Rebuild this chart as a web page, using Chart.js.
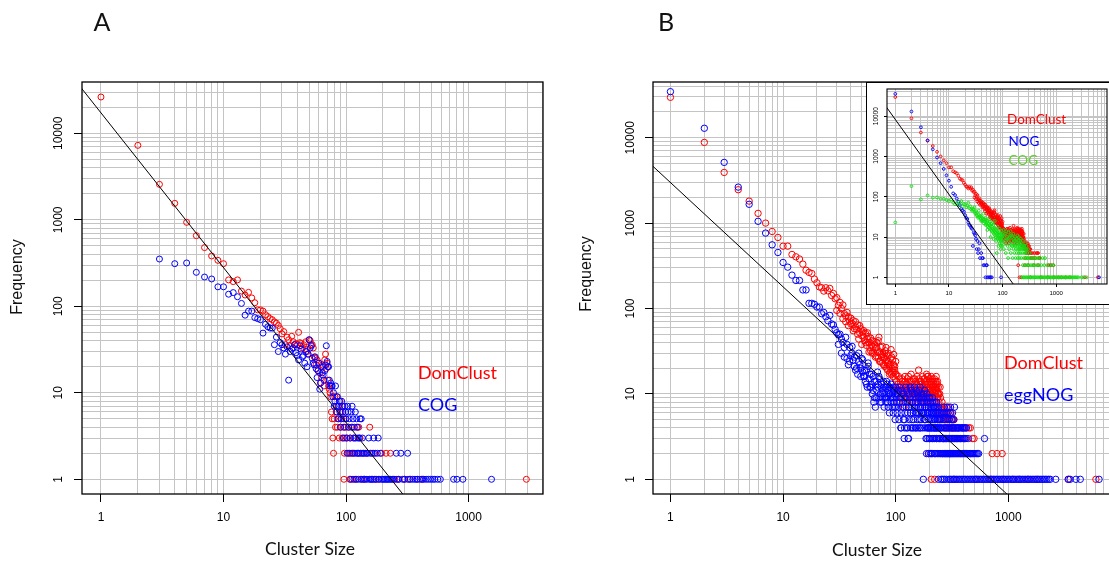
<!DOCTYPE html>
<html>
<head>
<meta charset="utf-8">
<script src="https://cdn.jsdelivr.net/npm/chart.js@4"></script>
<style>
  body { margin: 0; width: 1109px; height: 561px; overflow: hidden; background: #fff; position: relative; }
  canvas { position: absolute; }
  #inset { position: absolute; left: 866px; top: 82px; width: 262px; height: 221px; border: 1.5px solid #000; background: #fff; }
  #inset canvas { left: 0; top: 0; }
</style>
</head>
<body>
<canvas id="chartA" width="560" height="561" style="left:0;top:0"></canvas>
<canvas id="chartB" width="570" height="561" style="left:560px;top:0"></canvas>
<div id="inset"><canvas id="chartC" width="250" height="221"></canvas></div>
<script>
// tick labels and grid
const xTickLabels = [1, 10, 100, 1000]
const yTickLabels = [1, 10, 100, 1000, 10000]
const gridMult = [1, 2, 3, 4, 5, 6, 7, 8, 9]
const decades = [1, 10, 100, 1000, 10000]

// ---- panel A ----
// DomClust frequency for cluster sizes 1..75
const domA_freq = [26300, 7260, 2570, 1550, 935, 656, 477, 382, 340, 311,
  202, 193, 202, 150, 135, 145, 125, 110, 91, 91,
  88, 80, 76, 72, 70, 66, 64, 60, 55, 48,
  51, 36, 44, 41, 35, 45, 39, 36, 37, 36,
  50, 38, 37, 33, 36, 32, 39, 30, 28, 41,
  40, 36, 36, 33, 26, 25, 21, 24, 18, 22,
  17, 13, 15, 21, 20, 12, 24, 28, 19, 22,
  14, 12, 11, 10, 9]
const domA_tail = [[76, 6], [77, 5], [78, 3], [79, 2], [80, 5], [81, 9], [82, 4], [83, 6], [84, 9], [85, 4],
  [86, 7], [87, 5], [88, 3], [89, 8], [90, 4], [91, 6], [92, 5], [93, 3], [94, 7], [95, 4], [96, 1], [97, 2],
  [98, 3], [99, 5], [100, 4], [102, 3], [104, 2], [105, 4], [107, 1], [108, 3], [110, 2], [112, 1], [113, 4],
  [115, 2], [117, 3], [120, 1], [122, 4], [125, 2], [127, 4], [130, 3], [134, 1], [138, 2], [142, 1], [148, 2],
  [156, 4], [160, 1], [168, 2], [175, 1], [185, 1], [195, 2], [212, 2], [230, 2], [250, 1], [270, 1], [300, 1],
  [330, 1], [380, 1], [420, 1], [2960, 1]]
// COG frequency for cluster sizes 3..80
const cogA_start = 3
const cogA_freq = [352, 311, 317, 247, 218, 207, 168, 168, 138, 144,
  129, 108, 79, 88, 88, 74, 72, 70, 49, 62,
  58, 56, 56, 36, 44, 30, 38, 36, 33, 28,
  34, 14, 30, 32, 33, 36, 29, 27, 24, 35,
  32, 26, 27, 22, 30, 20, 28, 41, 33, 35,
  25, 22, 21, 26, 19, 15, 18, 22, 11, 13,
  20, 17, 16, 14, 18, 21, 35, 23, 20, 20,
  14, 12, 13, 12, 12, 9, 10, 7]
const cogA_tail = [[81, 8], [82, 12], [83, 7], [84, 6], [85, 9], [86, 5], [87, 7], [88, 8], [89, 6], [90, 4],
  [91, 5], [92, 8], [93, 7], [94, 6], [95, 3], [96, 5], [97, 4], [98, 7], [99, 6], [100, 5], [101, 3], [102, 2],
  [103, 7], [104, 6], [105, 4], [106, 5], [107, 2], [108, 3], [109, 1], [110, 6], [111, 4], [112, 7], [113, 2],
  [114, 5], [115, 3], [116, 1], [117, 4], [118, 2], [119, 6], [120, 3], [121, 1], [122, 5], [123, 2], [124, 4],
  [125, 3], [126, 1], [127, 2], [128, 3], [130, 5], [131, 2], [132, 1], [133, 5], [135, 2], [136, 3], [138, 1],
  [140, 2], [142, 1], [145, 2], [148, 1], [150, 2], [153, 3], [155, 1], [158, 2], [160, 1], [163, 2], [165, 1],
  [168, 3], [170, 1], [173, 2], [176, 1], [180, 2], [183, 3], [186, 1], [190, 2], [195, 1], [200, 1], [205, 1],
  [210, 1], [215, 1], [220, 1], [226, 1], [232, 1], [238, 1], [245, 1], [257, 2], [260, 1], [268, 1], [280, 2],
  [290, 1], [300, 1], [318, 2], [320, 1], [335, 1], [350, 1], [365, 1], [380, 1], [400, 1], [415, 1], [430, 1],
  [450, 1], [470, 1], [490, 1], [510, 1], [530, 1], [560, 1], [588, 1], [754, 1], [803, 1], [898, 1], [1538, 1]]
const fitA = [[0.63, 39400], [316, 0.58]]

// ---- panel B ----
// DomClust frequency for cluster sizes 1..100
const domB_freq = [29700, 8810, 3920, 2460, 1810, 1300, 1000, 798, 679, 537,
  537, 429, 403, 380, 331, 281, 265, 257, 221, 200,
  179, 175, 160, 175, 161, 172, 142, 150, 130, 134,
  109, 118, 100, 76, 87, 70, 90, 80, 71, 66,
  67, 72, 58, 61, 57, 64, 44, 52, 58, 48,
  53, 46, 42, 51, 37, 44, 47, 40, 35, 32,
  37, 42, 36, 30, 38, 34, 28, 40, 31, 26,
  46, 31, 24, 35, 27, 23, 29, 22, 26, 30,
  32, 25, 20, 28, 19, 24, 22, 21, 18, 26,
  33, 17, 20, 25, 16, 22, 18, 19, 15, 17]
const domB_cloud = [[30, 95], [32, 88], [34, 110], [36, 82], [38, 63], [40, 77], [42, 55], [44, 70], [46, 50],
  [48, 63], [50, 38], [52, 55], [54, 40], [56, 52], [58, 31], [60, 45], [62, 30], [64, 41], [66, 27], [68, 35],
  [70, 42], [72, 24], [74, 29], [76, 36], [78, 27], [80, 21], [82, 35], [84, 23], [86, 30], [88, 17], [90, 22],
  [92, 27], [94, 18], [96, 29], [98, 21], [100, 24],
  [101, 17], [103, 10], [105, 13], [107, 8], [109, 15], [111, 12], [113, 9], [115, 14], [117, 7], [119, 11],
  [121, 16], [123, 13], [125, 9], [127, 15], [129, 12], [131, 7], [133, 14], [135, 10], [137, 17], [139, 12],
  [141, 9], [143, 15], [145, 11], [147, 13], [149, 8], [151, 14], [153, 10], [155, 16], [157, 12], [159, 9],
  [161, 15], [163, 11], [165, 13], [167, 7], [169, 14], [171, 10], [173, 16], [175, 12], [177, 9], [179, 13],
  [181, 15], [183, 11], [185, 8], [187, 14], [189, 12], [191, 16], [193, 9], [195, 13], [197, 11], [199, 15],
  [201, 8], [203, 12], [205, 10], [207, 16], [209, 13], [211, 9], [213, 11], [215, 14], [217, 12], [219, 8],
  [221, 15], [223, 10], [225, 13], [227, 11], [229, 16], [231, 12], [233, 9], [235, 14], [237, 10], [239, 12],
  [242, 8], [246, 10], [250, 9], [254, 7], [258, 8], [262, 6], [268, 7], [274, 5], [282, 7], [290, 6], [298, 5],
  [306, 6], [314, 4], [322, 5], [330, 5]]
const domB_tail = [[102, 14], [104, 12], [106, 16], [108, 11], [110, 13], [112, 9], [114, 15], [116, 10],
  [118, 12], [120, 14], [122, 8], [124, 11], [126, 13], [128, 10], [130, 16], [132, 9], [134, 12], [136, 11],
  [138, 14], [140, 8], [142, 13], [144, 10], [146, 12], [148, 15], [150, 9], [152, 11], [154, 13], [156, 8],
  [158, 12], [160, 19], [162, 10], [164, 14], [166, 9], [168, 11], [170, 13], [172, 8], [174, 12], [176, 10],
  [178, 15], [180, 9], [182, 11], [184, 13], [186, 7], [188, 17], [190, 10], [192, 12], [194, 16], [196, 2],
  [198, 9], [200, 11], [202, 13], [204, 8], [206, 14], [208, 10], [210, 12], [212, 15], [214, 9], [216, 11],
  [218, 13], [220, 7], [222, 1], [224, 10], [226, 12], [228, 14], [230, 8], [232, 11], [234, 13], [236, 9],
  [238, 6], [240, 10], [245, 7], [248, 12], [252, 6], [256, 5], [260, 7], [265, 6], [266, 3], [270, 5],
  [275, 4], [280, 6], [285, 5], [290, 4], [295, 7], [300, 5], [305, 4], [310, 6], [317, 5], [325, 4],
  [330, 3], [340, 4], [350, 3], [360, 4], [375, 3], [390, 4], [405, 3], [425, 4], [445, 4], [460, 4],
  [480, 3], [497, 3], [260, 2], [300, 2], [380, 2], [460, 2], [720, 2], [795, 2], [882, 2],
  [207, 1], [330, 1], [520, 1], [700, 1], [900, 1], [1100, 1], [1250, 1], [1500, 1], [1800, 1], [3440, 1], [6000, 1]]
// eggNOG frequency for cluster sizes 1..100
const eggB_freq = [34600, 12900, 5140, 2640, 1660, 1050, 764, 557, 453, 346,
  305, 246, 213, 213, 165, 165, 115, 115, 112, 104,
  104, 87, 90, 80, 72, 83, 66, 64, 57, 52,
  49, 50, 44, 40, 27, 46, 38, 22, 35, 28,
  30, 25, 21, 19, 28, 17, 24, 22, 20, 26,
  18, 16, 16, 14, 19, 12, 21, 15, 17, 12,
  13, 10, 16, 8, 9, 7, 14, 11, 18, 13,
  9, 15, 10, 12, 8, 9, 11, 14, 7, 10,
  12, 8, 9, 13, 11, 7, 10, 6, 12, 9,
  8, 11, 7, 10, 6, 9, 8, 11, 5, 7]
const eggB_cloud = [[31, 38], [33, 30], [35, 35], [37, 26], [39, 24], [41, 36], [43, 27], [45, 20], [47, 30],
  [49, 16], [51, 25], [53, 19], [55, 13], [57, 23], [59, 12], [61, 17], [63, 11], [65, 14], [67, 9], [69, 12],
  [71, 16], [73, 8], [75, 13], [77, 10], [79, 12], [81, 9], [83, 14], [85, 8], [87, 12], [89, 10], [91, 13],
  [93, 9], [95, 12], [97, 7], [99, 10],
  [100, 12], [102, 8], [104, 10], [106, 7], [108, 12], [110, 9], [112, 6], [114, 11], [116, 8], [118, 10],
  [120, 5], [122, 9], [124, 7], [126, 11], [128, 6], [131, 10], [133, 8], [135, 12], [137, 7], [139, 5],
  [141, 10], [143, 6], [145, 9], [147, 12], [149, 7], [151, 8], [153, 11], [155, 6], [157, 10], [159, 7],
  [161, 9], [163, 5], [165, 12], [167, 8], [169, 6], [171, 10], [173, 7], [175, 9], [177, 6], [179, 8],
  [181, 11], [183, 5], [185, 9], [187, 7], [189, 10], [191, 6], [193, 8], [195, 7], [197, 4], [199, 6],
  [201, 9], [203, 5], [205, 8], [207, 7], [209, 4], [211, 6], [213, 9], [215, 5], [217, 7], [219, 6], [221, 4],
  [223, 8], [225, 5], [227, 7], [229, 6], [231, 4], [233, 7], [235, 6], [237, 5], [239, 7], [243, 5], [247, 6],
  [251, 5], [257, 6], [263, 5], [269, 7], [275, 5], [281, 6], [287, 7], [293, 6], [299, 5], [305, 6], [311, 5],
  [320, 6], [327, 5], [333, 7],
  [112, 4], [120, 4], [128, 4], [136, 4], [144, 4], [150, 4], [158, 4], [166, 4], [174, 4], [182, 4], [190, 4],
  [198, 4], [206, 4], [214, 4], [222, 4], [230, 4], [240, 4], [248, 4], [285, 4], [295, 4], [318, 4], [332, 4],
  [348, 4], [362, 4], [380, 4], [398, 4], [414, 4],
  [119, 3], [130, 3], [190, 3], [198, 3], [206, 3], [214, 3], [222, 3], [232, 3], [242, 3], [265, 3], [282, 3],
  [300, 3], [320, 3], [335, 3], [349, 3], [364, 3], [380, 3], [398, 3], [420, 3],
  [196, 2], [204, 2], [212, 2], [220, 2], [228, 2], [242, 2], [252, 2], [263, 2], [272, 2], [280, 2], [288, 2],
  [297, 2], [306, 2], [315, 2], [325, 2], [336, 2], [348, 2], [360, 2], [373, 2], [388, 2], [402, 2], [418, 2],
  [432, 2], [449, 2], [467, 2], [485, 2], [507, 2], [532, 2]]
const eggB_tail = [[101, 9], [103, 6], [105, 11], [107, 5], [109, 8], [111, 4], [113, 10], [115, 7], [117, 5],
  [119, 9], [121, 6], [123, 12], [125, 4], [127, 8], [129, 3], [130, 7], [132, 5], [134, 9], [136, 6], [138, 11],
  [140, 4], [142, 8], [144, 5], [146, 7], [148, 10], [150, 6], [152, 4], [154, 9], [156, 5], [158, 8], [160, 6],
  [162, 11], [164, 4], [166, 7], [168, 5], [170, 9], [172, 6], [174, 8], [176, 1], [178, 10], [180, 5], [182, 7],
  [184, 6], [186, 3], [188, 2], [190, 8], [192, 4], [194, 6], [196, 5], [198, 9], [200, 3], [202, 7], [204, 4],
  [206, 6], [208, 2], [210, 5], [212, 8], [214, 3], [216, 6], [218, 4], [220, 7], [222, 5], [224, 2], [226, 6],
  [228, 4], [230, 3], [232, 8], [234, 5], [236, 2], [238, 4], [240, 1], [242, 6], [244, 3], [246, 5], [248, 2],
  [250, 4], [268, 6], [290, 5], [307, 7], [317, 5],
  [255, 4], [265, 4], [272, 4], [280, 4], [300, 4], [312, 4], [325, 4], [340, 4], [355, 4], [370, 4], [390, 4],
  [405, 4], [424, 4],
  [252, 3], [260, 3], [270, 3], [278, 3], [286, 3], [295, 3], [305, 3], [315, 3], [328, 3], [342, 3], [356, 3],
  [372, 3], [388, 3], [410, 3], [440, 3], [615, 3],
  [258, 2], [268, 2], [276, 2], [284, 2], [292, 2], [302, 2], [310, 2], [320, 2], [330, 2], [342, 2], [354, 2],
  [366, 2], [380, 2], [395, 2], [410, 2], [425, 2], [440, 2], [458, 2], [476, 2], [495, 2], [520, 2], [545, 2],
  [254, 1], [262, 1], [271, 1], [282, 1], [298, 1], [306, 1], [316, 1], [326, 1], [336, 1], [347, 1], [358, 1],
  [370, 1], [382, 1], [395, 1], [408, 1], [420, 1], [435, 1], [450, 1], [465, 1], [480, 1], [497, 1], [512, 1],
  [530, 1], [548, 1], [566, 1], [585, 1], [605, 1], [625, 1], [646, 1], [668, 1], [690, 1], [713, 1], [737, 1],
  [760, 1], [786, 1], [812, 1], [840, 1], [868, 1], [897, 1], [927, 1], [958, 1], [990, 1], [1025, 1], [1060, 1],
  [1095, 1], [1130, 1], [1170, 1], [1210, 1], [1250, 1], [1290, 1], [1335, 1], [1380, 1], [1425, 1], [1475, 1],
  [1525, 1], [1575, 1], [1630, 1], [1685, 1], [1740, 1], [1800, 1], [1860, 1], [1920, 1], [1990, 1], [2060, 1],
  [2130, 1], [2200, 1], [2280, 1], [2360, 1], [2640, 1], [3400, 1], [3540, 1], [3990, 1], [4360, 1], [6400, 1]]
const fitB = [[0.63, 5250], [1259, 0.49]]

// ---- inset (DomClust as in B, NOG, COG) ----
const nogC_freq = [35700, 13000, 5300, 2500, 1500, 940, 680, 490, 340, 250,
  176, 121, 110, 90, 75, 62, 50, 46, 42, 35,
  30, 28, 23, 20, 19, 17, 16, 6, 13, 12,
  11, 9, 5, 8, 4, 5, 7]
const nogC_tail = [[38, 3], [40, 4], [42, 3], [43, 3], [44, 2], [46, 2], [48, 1], [50, 2], [51, 2], [52, 1],
  [55, 1], [58, 1], [60, 1], [63, 1], [94, 1], [6300, 1]]
const cogC_freq = [23, 183, 86, 108, 95, 96, 89, 89, 83, 78,
  85, 71, 65, 70, 62, 71, 78, 58, 66, 65,
  55, 60, 71, 52, 58, 49, 45, 50, 48, 42,
  38, 44, 40, 33, 30, 36, 31, 34, 28, 32,
  26, 30, 25, 28, 22, 27, 24, 20, 26, 21,
  23, 19, 25, 18, 22, 17, 20, 24, 16, 19,
  15, 21, 14, 18, 16, 13, 20, 15, 12, 17,
  14, 11, 16, 13, 10, 15, 12, 4, 14, 11,
  9, 13, 10, 12, 8, 11, 9, 13, 7, 9,
  10, 8, 12, 6, 9, 11, 7, 10, 8, 6]
const cogC_cloud = [[30, 55], [33, 35], [36, 45], [40, 25], [44, 38], [48, 30], [52, 15], [56, 28], [60, 10],
  [64, 22], [68, 9], [72, 25], [76, 8], [80, 18], [84, 6], [88, 16], [92, 5], [96, 14], [100, 12],
  [105, 15], [111, 12], [117, 14], [123, 9], [129, 13], [135, 10], [141, 14], [147, 11], [153, 6], [159, 12],
  [165, 8], [171, 10], [177, 6], [183, 9], [189, 11], [195, 7], [201, 10], [207, 5], [213, 8], [219, 9],
  [226, 7], [233, 6], [240, 8], [248, 5], [256, 6], [264, 7], [272, 5], [280, 6], [290, 3], [300, 5]]
const cogC_tail = [[103, 9], [106, 5], [109, 11], [112, 7], [115, 4], [118, 8], [121, 10], [124, 6], [127, 3],
  [130, 9], [133, 5], [136, 7], [139, 11], [142, 4], [145, 8], [148, 6], [151, 10], [154, 3], [157, 7], [160, 5],
  [163, 9], [166, 4], [169, 6], [172, 8], [175, 3], [178, 5], [181, 7], [184, 4], [187, 9], [190, 6], [193, 3],
  [196, 5], [199, 8], [202, 4], [205, 6], [208, 3], [211, 7], [214, 5], [217, 4], [220, 6], [225, 3], [230, 5],
  [235, 4], [240, 2], [245, 6], [250, 3], [255, 4], [260, 5], [265, 2], [270, 4], [275, 3], [280, 5], [285, 2],
  [290, 4], [300, 3], [310, 2], [320, 4], [330, 3], [340, 2], [355, 3], [370, 2], [385, 3], [400, 2], [420, 3],
  [440, 2], [460, 3], [480, 2], [500, 3], [530, 2], [560, 3], [600, 2], [620, 3], [680, 2], [750, 2], [820, 2],
  [890, 2],
  [230, 1], [244, 1], [253, 1], [269, 1], [280, 1], [297, 1], [309, 1], [328, 1], [342, 1], [363, 1], [380, 1],
  [402, 1], [419, 1], [444, 1], [465, 1], [491, 1], [513, 1], [544, 1], [568, 1], [601, 1], [629, 1], [665, 1],
  [696, 1], [736, 1], [770, 1], [814, 1], [851, 1], [900, 1], [942, 1], [996, 1], [1041, 1], [1102, 1], [1153, 1],
  [1219, 1], [1276, 1], [1349, 1], [1412, 1], [1493, 1], [1562, 1], [1651, 1], [1729, 1], [1827, 1], [1913, 1],
  [2021, 1], [2117, 1], [2236, 1], [2344, 1], [2473, 1], [2600, 1], [2980, 1], [3200, 1], [3700, 1]]
const fitC = [[0.63, 19450], [200, 0.44]]

const red = '#ff0000'
const blue = '#0000ff'
const green = '#10e010'
const gridColor = '#c4c4c4'

function toPoints(freq, start, tail, cloud) {
  const pts = freq.map((f, i) => ({ x: start + i, y: f }))
  tail.concat(cloud || []).forEach(p => pts.push({ x: p[0], y: p[1] }))
  return pts
}

function gridValues(min, max) {
  const v = []
  decades.forEach(d => gridMult.forEach(m => {
    const t = m * d
    if (t >= min && t <= max) v.push(t)
  }))
  return v
}

function pointSet(data, color, r, bw) {
  return { data, pointRadius: r, pointBorderWidth: bw, borderWidth: bw,
    pointBorderColor: color, pointBackgroundColor: 'rgba(0,0,0,0)', borderColor: color }
}

function fitSet(pairs) {
  return { data: pairs.map(p => ({ x: p[0], y: p[1] })), showLine: true, borderColor: '#000',
    borderWidth: 1, pointRadius: 0, clip: 0 }
}

// y labels (rotated, like R), box and annotation texts
const rPlot = {
  id: 'rPlot',
  afterDraw(chart, args, o) {
    const { ctx, chartArea: a } = chart
    const ys = chart.scales.y
    ctx.save()
    ctx.fillStyle = '#000'
    ctx.font = o.tickFont
    ctx.textAlign = 'center'
    ctx.textBaseline = 'middle'
    yTickLabels.forEach(v => {
      if (v < ys.min || v > ys.max) return
      ctx.save()
      ctx.translate(a.left - o.yOffset, ys.getPixelForValue(v))
      ctx.rotate(-Math.PI / 2)
      ctx.fillText(String(v), 0, 0)
      ctx.restore()
    })
    ctx.strokeStyle = '#000'
    ctx.lineWidth = o.box
    ctx.strokeRect(a.left, a.top, a.right - a.left, a.bottom - a.top)
    o.texts.forEach(t => {
      ctx.font = t.font
      ctx.fillStyle = t.color || '#111'
      if (t.rot) {
        ctx.save()
        ctx.translate(t.x, t.y)
        ctx.rotate(-Math.PI / 2)
        ctx.textAlign = 'center'
        ctx.textBaseline = 'middle'
        ctx.fillText(t.s, 0, 0)
        ctx.restore()
      } else {
        ctx.textAlign = t.align || 'left'
        ctx.textBaseline = 'alphabetic'
        ctx.fillText(t.s, t.x, t.y)
      }
    })
    ctx.restore()
  }
}

function makeChart(id, c) {
  const tickColor = k => (xTickLabels.concat(yTickLabels).includes(k.tick.value) ? '#000' : 'rgba(0,0,0,0)')
  return new Chart(document.getElementById(id), {
    type: 'scatter',
    data: { datasets: c.datasets },
    options: {
      responsive: false,
      animation: false,
      events: [],
      layout: { padding: c.padding },
      plugins: { legend: { display: false }, tooltip: { enabled: false },
        rPlot: { tickFont: c.yFont, yOffset: c.yOffset, box: c.box, texts: c.texts } },
      scales: {
        x: {
          type: 'logarithmic', min: c.x[0], max: c.x[1],
          afterBuildTicks: s => { s.ticks = gridValues(c.x[0], c.x[1]).map(v => ({ value: v })) },
          afterFit: s => { s.height = c.xHeight },
          border: { display: false },
          grid: { color: gridColor, lineWidth: 1, tickLength: c.tick, tickColor, tickWidth: 1 },
          ticks: { autoSkip: false, maxRotation: 0, minRotation: 0, padding: c.xPad, color: '#000',
            font: { family: 'Liberation Sans', size: c.xFont },
            callback: v => (xTickLabels.includes(v) ? String(v) : '') }
        },
        y: {
          type: 'logarithmic', min: c.y[0], max: c.y[1],
          afterBuildTicks: s => { s.ticks = gridValues(c.y[0], c.y[1]).map(v => ({ value: v })) },
          afterFit: s => { s.width = c.yWidth },
          border: { display: false },
          grid: { color: gridColor, lineWidth: 1, tickLength: c.tick, tickColor, tickWidth: 1 },
          ticks: { display: false }
        }
      }
    },
    plugins: [rPlot]
  })
}

makeChart('chartA', {
  datasets: [fitSet(fitA),
    pointSet(toPoints(cogA_freq, cogA_start, cogA_tail), blue, 3, 1),
    pointSet(toPoints(domA_freq, 1, domA_tail), red, 3, 1)],
  padding: { top: 82, right: 17, left: 0, bottom: 0 },
  x: [0.718, 4046], y: [0.676, 39200],
  xHeight: 67, yWidth: 82, tick: 8, xPad: 8, xFont: 12,
  yFont: "12px 'Liberation Sans'", yOffset: 23, box: 1.3,
  texts: [
    { s: 'A', x: 102, y: 31, font: '25px Lato', align: 'center' },
    { s: 'Frequency', x: 18, y: 277, font: "16px 'Liberation Sans'", rot: true },
    { s: 'Cluster Size', x: 310, y: 555, font: '17.5px Lato', align: 'center' },
    { s: 'DomClust', x: 418, y: 379, font: '18px Lato', color: red },
    { s: 'COG', x: 418, y: 411, font: '18px Lato', color: blue }
  ]
})

makeChart('chartB', {
  datasets: [fitSet(fitB),
    pointSet(toPoints(eggB_freq, 1, eggB_tail, eggB_cloud), blue, 3.2, 1),
    pointSet(toPoints(domB_freq, 1, domB_tail, domB_cloud), red, 3.2, 1)],
  padding: { top: 82, right: 14, left: 0, bottom: 0 },
  x: [0.711, 9050], y: [0.673, 44900],
  xHeight: 67, yWidth: 93, tick: 8, xPad: 8, xFont: 12,
  yFont: "12px 'Liberation Sans'", yOffset: 22, box: 1.3,
  texts: [
    { s: 'B', x: 106, y: 31, font: '25px Lato', align: 'center' },
    { s: 'Frequency', x: 27, y: 274, font: "16px 'Liberation Sans'", rot: true },
    { s: 'Cluster Size', x: 317, y: 556, font: '17.5px Lato', align: 'center' },
    { s: 'DomClust', x: 444, y: 369, font: '18px Lato', color: red },
    { s: 'eggNOG', x: 444, y: 401, font: '18px Lato', color: blue }
  ]
})

makeChart('chartC', {
  datasets: [fitSet(fitC),
    pointSet(toPoints(cogC_freq, 1, cogC_tail, cogC_cloud), green, 1.4, 0.9),
    pointSet(toPoints(nogC_freq, 1, nogC_tail), blue, 1.4, 0.9),
    pointSet(toPoints(domB_freq, 1, domB_tail, domB_cloud), red, 1.4, 0.9)],
  padding: { top: 6, right: 10, left: 0, bottom: 0 },
  x: [0.725, 8870], y: [0.683, 47100],
  xHeight: 20, yWidth: 20, tick: 3, xPad: 3, xFont: 6,
  yFont: "6.5px 'Liberation Sans'", yOffset: 11, box: 1.1,
  texts: [
    { s: 'DomClust', x: 140, y: 41, font: '13.5px Lato', color: red },
    { s: 'NOG', x: 141.5, y: 62.5, font: '13.5px Lato', color: blue },
    { s: 'COG', x: 141.5, y: 81.5, font: '13.5px Lato', color: '#62cc33' }
  ]
})
</script>
</body>
</html>
